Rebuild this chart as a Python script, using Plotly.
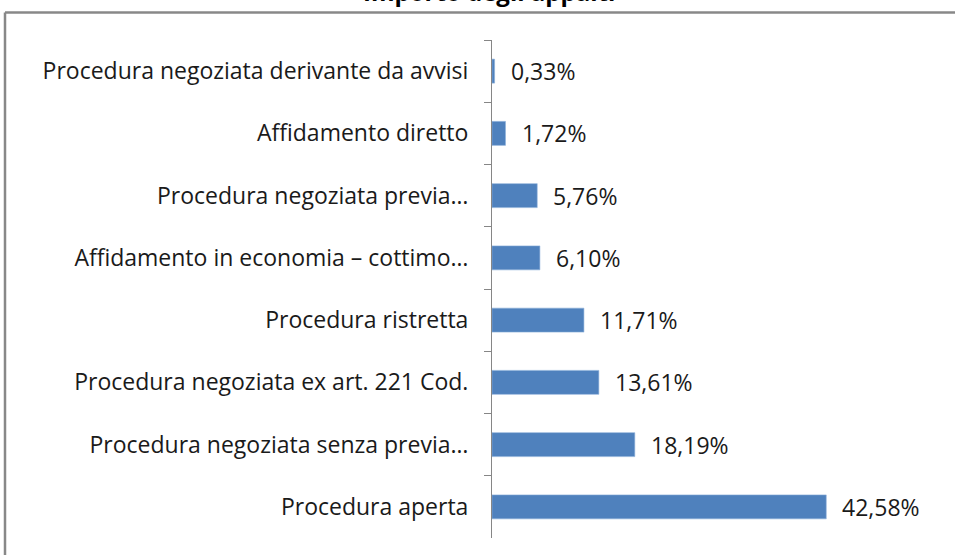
import plotly.graph_objects as go

# Procedure di affidamento, in ordine dall'alto verso il basso
categorie = [
    "Procedura negoziata derivante da avvisi",
    "Affidamento diretto",
    "Procedura negoziata previa…",
    "Affidamento in economia – cottimo…",
    "Procedura ristretta",
    "Procedura negoziata ex art. 221 Cod.",
    "Procedura negoziata senza previa…",
    "Procedura aperta",
]
percentuali = [0.33, 1.72, 5.76, 6.10, 11.71, 13.61, 18.19, 42.58]
titolo = "Importo degli appalti"


def fmt_it(v):
    return f"{v:.2f}".replace(".", ",") + "%"


etichette = [fmt_it(v) for v in percentuali]

W, H = 955, 555
ML, MR, MT, MB = 492, 75, 40, 17
plot_w = W - ML - MR
plot_h = H - MT - MB
FONT = "Open Sans"

fig = go.Figure(
    go.Bar(
        x=percentuali,
        y=categorie,
        orientation="h",
        marker=dict(color="#4F81BD", line=dict(color="#8DB0DA", width=0.6)),
        hoverinfo="skip",
    )
)

# etichette dei valori a destra delle barre
for v, c, t in zip(percentuali, categorie, etichette):
    fig.add_annotation(
        x=v, y=c, text=t, showarrow=False, xanchor="left", yanchor="middle",
        xshift=14, font=dict(family=FONT, size=23, color="#1a1a1a"),
    )

# titolo, in parte oltre il bordo superiore
fig.add_annotation(
    x=(489 - ML) / plot_w, xref="paper", y=1, yref="paper", yshift=MT + 9,
    xanchor="center", yanchor="middle", showarrow=False,
    text=f"<b>{titolo}</b>",
    font=dict(family=FONT, size=24, color="#000000"),
)

# cornice dell'area del grafico
x_left = -(ML - 5) / plot_w
y_top = 1 + (MT - 12.5) / plot_h
fig.add_shape(type="line", xref="paper", yref="paper",
              x0=x_left, x1=(W - ML) / plot_w + 0.05, y0=y_top, y1=y_top,
              line=dict(color="#888888", width=2.5))
fig.add_shape(type="line", xref="paper", yref="paper",
              x0=x_left, x1=x_left, y0=-0.1, y1=y_top,
              line=dict(color="#888888", width=2.5))

fig.update_layout(
    width=W, height=H,
    margin=dict(l=ML, r=MR, t=MT, b=MB, pad=0),
    paper_bgcolor="white", plot_bgcolor="white",
    bargap=0.615,
    showlegend=False,
    xaxis=dict(range=[0, plot_w / 7.85], visible=False, fixedrange=True),
    yaxis=dict(
        autorange="reversed", type="category",
        showline=True, linecolor="#868686", linewidth=1,
        ticks="outside", ticklen=7, tickcolor="#868686", tickwidth=1,
        tickson="boundaries", ticklabelstandoff=18,
        showgrid=False, zeroline=False,
        tickfont=dict(family=FONT, size=23, color="#1a1a1a"),
    ),
)

fig.write_html("out.html")
